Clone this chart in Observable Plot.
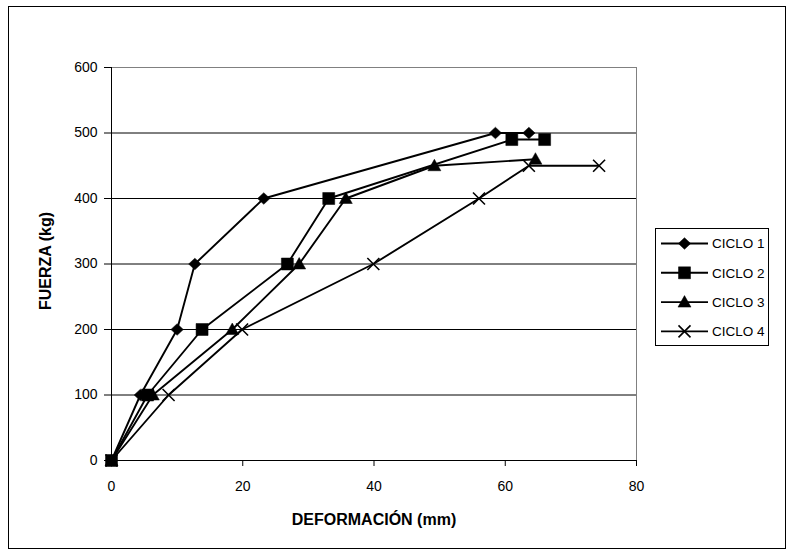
<!DOCTYPE html>
<html>
<head>
<meta charset="utf-8">
<script src="https://cdn.jsdelivr.net/npm/d3@7"></script>
<script src="https://cdn.jsdelivr.net/npm/@observablehq/plot@0.6"></script>
<style>
  html, body { margin: 0; padding: 0; background: #fff; }
  #wrap { position: relative; width: 796px; height: 558px; overflow: hidden; font-family: "Liberation Sans", Arial, sans-serif; }
  #frame { position: absolute; left: 8px; top: 6px; width: 778px; height: 543px; border: 1px solid #000; box-sizing: border-box; pointer-events: none; }
  #legend { position: absolute; left: 0; top: 0; }
</style>
</head>
<body>
<div id="wrap"><div id="frame"></div></div>
<script>
const seriesNames = ["CICLO 1", "CICLO 2", "CICLO 3", "CICLO 4"];
const fuerza1 = [0, 100, 200, 300, 400, 500, 500];
const deform1 = [0, 4.4, 10.0, 12.7, 23.2, 58.5, 63.6];
const fuerza2 = [0, 100, 200, 300, 400, 490, 490];
const deform2 = [0, 5.5, 13.8, 26.8, 33.1, 61.0, 66.0];
const fuerza3 = [0, 100, 200, 300, 400, 450, 460];
const deform3 = [0, 6.3, 18.4, 28.6, 35.7, 49.2, 64.6];
const fuerza4 = [0, 100, 200, 300, 400, 450, 450];
const deform4 = [0, 8.7, 19.9, 39.9, 56.0, 63.6, 74.3];
const xTicks = [0, 20, 40, 60, 80];
const yTicks = [0, 100, 200, 300, 400, 500, 600];
const xTitle = "DEFORMACIÓN (mm)";
const yTitle = "FUERZA (kg)";

const deforms = [deform1, deform2, deform3, deform4];
const fuerzas = [fuerza1, fuerza2, fuerza3, fuerza4];
const data = seriesNames.flatMap((s, i) => deforms[i].map((d, j) => ({series: s, x: d, y: fuerzas[i][j]})));

// custom marker shapes
const diamond = {draw(c) { c.moveTo(0, -5.8); c.lineTo(6.2, 0); c.lineTo(0, 5.8); c.lineTo(-6.2, 0); c.closePath(); }};
const square = {draw(c) { c.rect(-6, -6, 12, 12); }};
const triangle = {draw(c) { c.moveTo(0, -6.5); c.lineTo(6.5, 5); c.lineTo(-6.5, 5); c.closePath(); }};
const cross = {draw(c) { c.moveTo(-6, -6); c.lineTo(6, 6); c.moveTo(6, -6); c.lineTo(-6, 6); }};
const symbols = [diamond, square, triangle, cross];
const filled = [true, true, true, false];

const font = "Liberation Sans, Arial, sans-serif";

const marks = [
  Plot.gridY(yTicks.filter(t => t > 0 && t < 600), {stroke: "#000", strokeOpacity: 1, strokeWidth: 1}),
  Plot.ruleY([600], {stroke: "#808080", strokeWidth: 1}),
  Plot.ruleX([80], {stroke: "#808080", strokeWidth: 1}),
  Plot.ruleX([0], {stroke: "#000", strokeWidth: 1}),
  Plot.ruleY([0], {stroke: "#000", strokeWidth: 1}),
  Plot.axisX({ticks: xTicks, tickSize: 6, tickPadding: 15, fontSize: 14, stroke: "#000"}),
  Plot.axisY({ticks: yTicks, tickSize: 7, tickPadding: 7, fontSize: 14, stroke: "#000"}),
  Plot.text([xTitle], {frameAnchor: "bottom", textAnchor: "middle", lineAnchor: "middle", dy: 59, fontSize: 16, fontWeight: "bold", fill: "#000"}),
  Plot.text([yTitle], {frameAnchor: "left", textAnchor: "middle", lineAnchor: "middle", dx: -66, dy: -3, rotate: -90, fontSize: 16, fontWeight: "bold", fill: "#000"}),
];
seriesNames.forEach((s, i) => {
  const d = data.filter(r => r.series === s);
  marks.push(Plot.line(d, {x: "x", y: "y", stroke: "#000", strokeWidth: 1.9, curve: "linear"}));
});
seriesNames.forEach((s, i) => {
  const d = data.filter(r => r.series === s);
  marks.push(Plot.dot(d, {
    x: "x", y: "y", symbol: symbols[i],
    fill: filled[i] ? "#000" : "none",
    stroke: "#000",
    strokeWidth: filled[i] ? 0.5 : 1.6
  }));
});

const chart = Plot.plot({
  width: 796,
  height: 558,
  marginLeft: 111,
  marginRight: 160,
  marginTop: 67,
  marginBottom: 98,
  style: {fontFamily: font, fontSize: "14px", color: "#000", background: "transparent", overflow: "visible"},
  x: {domain: [0, 80], label: null},
  y: {domain: [0, 600], label: null},
  marks
});
document.getElementById("wrap").prepend(chart);

// legend
const lg = d3.select("#wrap").append("svg").attr("id", "legend").attr("width", 796).attr("height", 558);
lg.append("rect").attr("x", 655.5).attr("y", 228.5).attr("width", 113).attr("height", 117)
  .attr("fill", "#fff").attr("stroke", "#000");
seriesNames.forEach((s, i) => {
  const y = 243.5 + i * 29.3;
  const g = lg.append("g");
  g.append("line").attr("x1", 661).attr("x2", 708).attr("y1", y).attr("y2", y).attr("stroke", "#000").attr("stroke-width", 1.9);
  const p = d3.path(); symbols[i].draw(p);
  g.append("path").attr("d", p.toString()).attr("transform", `translate(684.5,${y})`)
    .attr("fill", filled[i] ? "#000" : "none").attr("stroke", "#000").attr("stroke-width", filled[i] ? 0.5 : 1.6);
  g.append("text").attr("x", 712).attr("y", y).attr("dy", "0.35em").attr("font-size", 13.5)
    .attr("font-family", font).text(s);
});
</script>
</body>
</html>
